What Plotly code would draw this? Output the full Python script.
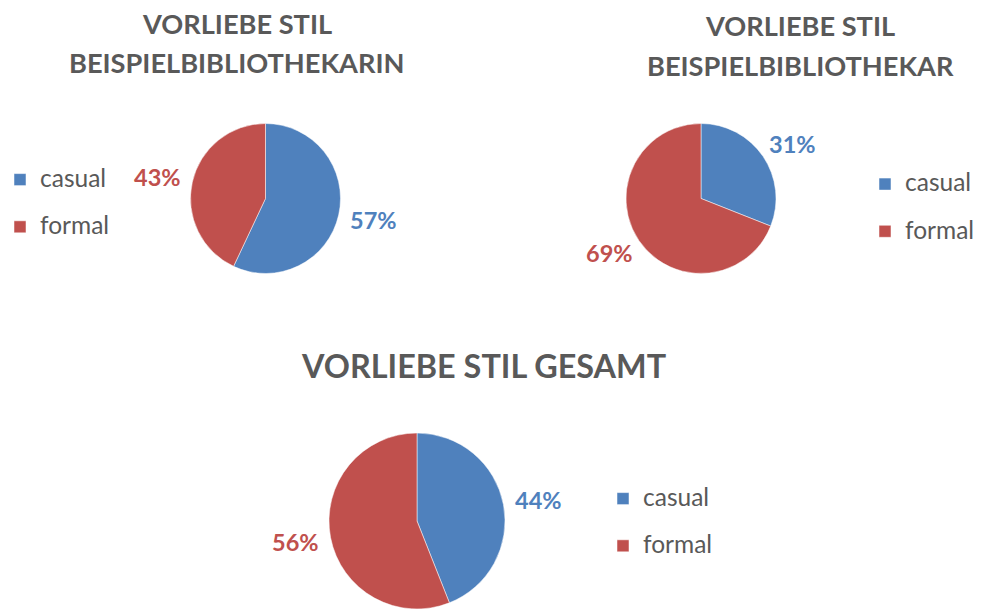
import math
import plotly.graph_objects as go

categories = ["casual", "formal"]
colors = ["#4F81BD", "#C0504D"]

titles = ["VORLIEBE STIL<br>BEISPIELBIBLIOTHEKARIN",
          "VORLIEBE STIL<br>BEISPIELBIBLIOTHEKAR",
          "VORLIEBE STIL GESAMT"]
values_bibliothekarin = [57, 43]
values_bibliothekar = [31, 69]
values_gesamt = [44, 56]

W, H = 981, 609
FONT = "Lato"
GRAY = "#595959"


def px(x):
    return x / W


def py(y):
    return 1 - y / H


fig = go.Figure()

# (values, centre x, centre y, radius, legend id, legend text-left x, legend mid y)
pies = [
    (values_bibliothekarin, 265.5, 198.5, 75, "legend", 40, 203.5),
    (values_bibliothekar, 701, 198.5, 75, "legend2", 905, 208),
    (values_gesamt, 417, 521, 88, "legend3", 643, 522.5),
]

legend_labels = [f"<span style='font-size:24.5px;baseline-shift:6px'>{c}</span>" for c in categories]

layout_legends = {}
for i, (vals, cx, cy, r, leg, lx, ly) in enumerate(pies):
    fig.add_trace(go.Pie(
        labels=legend_labels,
        values=vals,
        domain=dict(x=[px(cx - r), px(cx + r)], y=[max(0, py(cy + r)), py(cy - r)]),
        sort=False,
        direction="clockwise",
        rotation=0,
        marker=dict(colors=colors, line=dict(color="white", width=0.5)),
        textinfo="none",
        hovertemplate=[f"{c}: %{{percent:.0%}}<extra></extra>" for c in categories],
        legend=leg,
        legendgroup=f"g{i}",
        showlegend=True,
    ))
    layout_legends[leg] = dict(
        x=px(lx - 40), y=py(ly), xanchor="left", yanchor="middle",
        font=dict(family=FONT, size=34, color=GRAY),
        bgcolor="rgba(0,0,0,0)", itemclick=False, itemdoubleclick=False)
    # percentage labels placed outside each slice, along its bisector
    total = sum(vals)
    cum = 0
    for v, col in zip(vals, colors):
        mid = (cum + v / 2) / total
        cum += v
        ang = 2 * math.pi * mid
        ux, uy = math.sin(ang), -math.cos(ang)
        dx = (r + 13) * ux + 23 * ux
        dy = (r + 13) * uy + 9 * uy
        fig.add_annotation(
            text=f"{round(100 * v / total)}%",
            x=px(cx + dx), y=py(cy + dy),
            xref="paper", yref="paper", showarrow=False,
            xanchor="center", yanchor="middle",
            font=dict(family=FONT, size=23.5, color=col, weight="bold"))

fig.update_layout(
    width=W, height=H,
    margin=dict(l=0, r=0, t=0, b=0),
    paper_bgcolor="white",
    **layout_legends,
)

# title lines: centre x, line centre y values, font size
title_pos = [(236.5, [24, 62.3], 27.2), (800, [25.7, 65.7], 27.2), (483, [365.7], 32.4)]
for t, (cx, ys, sz) in zip(titles, title_pos):
    for line, y in zip(t.split("<br>"), ys):
        fig.add_annotation(text=line, x=px(cx), y=py(y), xref="paper", yref="paper",
                           showarrow=False, xanchor="center", yanchor="middle",
                           font=dict(family=FONT, size=sz, color=GRAY, weight="bold"))

fig.write_html("out.html", config={"displayModeBar": False},
               post_script="document.body.style.margin='0';")
